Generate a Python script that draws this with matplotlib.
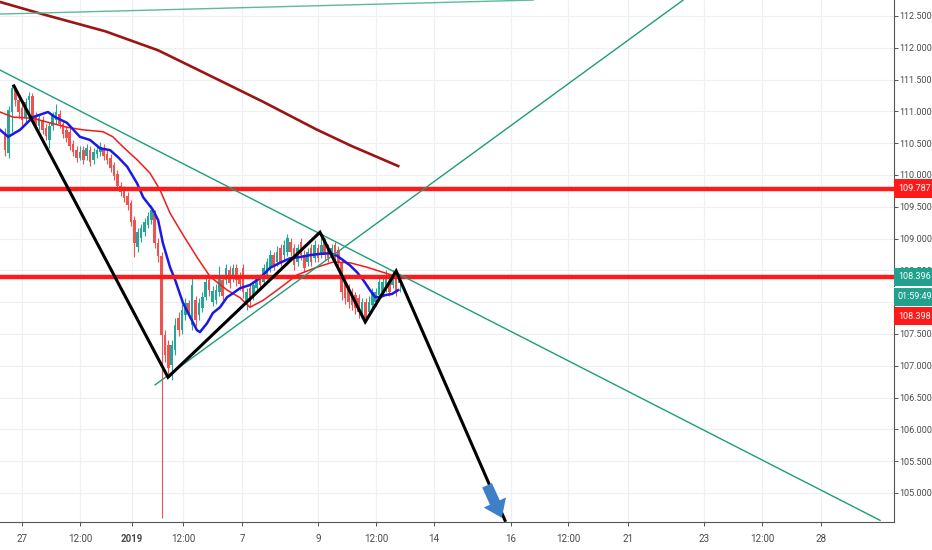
import matplotlib
matplotlib.use("Agg")
import matplotlib.pyplot as plt
import matplotlib.transforms as mtransforms
from matplotlib.patches import Rectangle, FancyArrowPatch
import numpy as np

plt.rcParams['font.family'] = ['Roboto', 'DejaVu Sans']

# candles (one per bar)
opens = [110.63, 110.35, 110.99, 111.37, 111.18, 111.05, 110.90, 111.18, 111.24, 110.93,
         110.77, 110.86, 110.74, 110.55, 110.77, 110.86, 110.96, 110.80, 110.71, 110.68,
         110.49, 110.39, 110.27, 110.39, 110.30, 110.39, 110.23, 110.33, 110.36, 110.42,
         110.33, 110.27, 110.16, 110.01, 109.82, 109.76, 109.67, 109.56, 109.29, 108.87,
         109.01, 109.10, 109.21, 109.29, 109.39, 108.93, 108.73, 107.48, 107.33, 107.01,
         107.25, 107.75, 107.56, 107.80, 107.99, 107.64, 108.03, 107.80, 107.91, 108.08,
         108.35, 108.00, 108.03, 108.16, 108.35, 108.35, 108.51, 108.38, 108.54, 108.40,
         108.54, 107.96, 108.22, 108.10, 108.22, 108.38, 108.32, 108.43, 108.54, 108.74,
         108.63, 108.85, 108.74, 108.79, 108.95, 108.85, 108.63, 108.95, 108.74, 108.63,
         108.85, 108.69, 108.85, 108.74, 108.95, 108.85, 108.74, 108.90, 108.82, 108.63,
         108.32, 108.22, 108.16, 108.11, 108.06, 107.80, 108.00, 107.85, 107.96, 108.00,
         108.11, 108.16, 108.22, 108.32, 108.27, 108.38, 108.30]
closes = [110.39, 111.02, 111.37, 111.18, 110.99, 110.86, 111.15, 111.24, 110.90, 110.80,
          110.90, 110.71, 110.61, 110.77, 110.93, 110.99, 110.80, 110.64, 110.58, 110.46,
          110.36, 110.27, 110.36, 110.23, 110.42, 110.20, 110.36, 110.39, 110.44, 110.30,
          110.23, 110.11, 109.98, 109.82, 109.73, 109.64, 109.53, 109.26, 108.93, 109.10,
          109.17, 109.26, 109.35, 109.45, 108.93, 108.73, 107.48, 107.17, 106.96, 107.33,
          107.64, 107.56, 107.88, 107.99, 107.85, 108.27, 107.72, 107.99, 108.08, 108.32,
          108.19, 108.17, 108.19, 108.40, 108.10, 108.54, 108.30, 108.54, 108.35, 108.28,
          108.16, 108.16, 108.00, 108.27, 108.38, 108.27, 108.54, 108.63, 108.74, 108.58,
          108.79, 108.63, 108.90, 109.01, 108.79, 108.58, 108.85, 108.74, 108.54, 108.79,
          108.63, 108.90, 108.69, 108.90, 108.74, 108.69, 108.85, 108.69, 108.63, 108.16,
          108.07, 108.00, 107.96, 107.91, 107.85, 108.00, 107.75, 108.00, 108.16, 108.16,
          108.32, 108.32, 108.43, 108.16, 108.43, 108.16, 108.40]
highs = [110.74, 111.08, 111.41, 111.40, 111.26, 111.11, 111.21, 111.30, 111.29, 110.99,
         110.96, 110.93, 110.80, 110.83, 110.99, 111.11, 111.02, 110.86, 110.77, 110.74,
         110.55, 110.46, 110.46, 110.46, 110.49, 110.46, 110.42, 110.49, 110.52, 110.49,
         110.39, 110.33, 110.20, 110.08, 109.89, 109.82, 109.73, 109.61, 109.35, 109.17,
         109.23, 109.32, 109.42, 109.53, 109.45, 109.01, 108.79, 107.56, 107.41, 107.41,
         107.75, 107.85, 107.97, 108.07, 108.03, 108.38, 108.10, 108.07, 108.16, 108.41,
         108.41, 108.25, 108.28, 108.57, 108.41, 108.60, 108.57, 108.60, 108.60, 108.48,
         108.60, 108.22, 108.28, 108.33, 108.44, 108.44, 108.60, 108.69, 108.82, 108.79,
         108.88, 108.91, 108.98, 109.07, 109.01, 108.91, 108.91, 109.01, 108.82, 108.85,
         108.91, 108.98, 108.91, 109.04, 109.01, 108.91, 108.91, 108.95, 108.88, 108.69,
         108.38, 108.28, 108.22, 108.16, 108.13, 108.06, 108.06, 108.10, 108.22, 108.22,
         108.38, 108.41, 108.51, 108.38, 108.51, 108.47, 108.44]
lows = [110.30, 110.27, 110.68, 111.08, 110.90, 110.77, 110.83, 110.90, 110.83, 110.71,
        110.71, 110.64, 110.55, 110.42, 110.71, 110.80, 110.74, 110.58, 110.52, 110.39,
        110.30, 110.20, 110.23, 110.17, 110.23, 110.14, 110.17, 110.27, 110.30, 110.23,
        110.17, 110.05, 109.92, 109.76, 109.67, 109.57, 109.45, 109.20, 108.71, 108.79,
        108.95, 109.04, 109.17, 109.23, 108.85, 108.63, 104.60, 107.06, 106.81, 106.78,
        107.17, 107.47, 107.50, 107.72, 107.75, 107.56, 107.63, 107.72, 107.85, 108.03,
        108.10, 107.94, 107.97, 108.10, 108.03, 108.28, 108.22, 108.32, 108.25, 108.19,
        108.07, 107.88, 107.94, 108.03, 108.16, 108.19, 108.25, 108.36, 108.47, 108.51,
        108.57, 108.57, 108.66, 108.73, 108.73, 108.51, 108.57, 108.66, 108.47, 108.57,
        108.57, 108.63, 108.63, 108.69, 108.66, 108.63, 108.66, 108.63, 108.54, 108.03,
        107.97, 107.91, 107.88, 107.82, 107.75, 107.75, 107.69, 107.78, 107.91, 107.94,
        108.06, 108.10, 108.16, 108.10, 108.22, 108.10, 108.16]

# moving averages: (bar, price)
ma_fast_x = [-1.5, 0.9, 4.4, 8.2, 12.6, 14.7, 18.2, 22.0, 25.0, 27.9, 30.9, 33.2, 35.9, 38.8,
             40.6, 43.5, 45.0, 46.4, 48.5, 50.0, 52.3, 54.4, 56.4, 57.3, 59.4, 61.1, 63.2,
             65.3, 67.0, 69.1, 72.0, 75.0, 77.9, 80.9, 83.8, 86.7, 89.7, 92.6, 95.6, 97.6,
             99.4, 101.4, 103.5, 105.3, 107.3, 108.8, 110.3, 111.7, 113.8, 115.6]
ma_fast_y = [110.71, 110.60, 110.71, 110.91, 110.99, 110.91, 110.82, 110.60, 110.55, 110.42,
             110.39, 110.28, 110.13, 109.87, 109.65, 109.45, 109.29, 108.93, 108.55, 108.35,
             107.99, 107.77, 107.56, 107.53, 107.67, 107.83, 107.92, 108.08, 108.14, 108.22,
             108.27, 108.38, 108.54, 108.62, 108.69, 108.71, 108.74, 108.76, 108.77, 108.73,
             108.66, 108.58, 108.47, 108.35, 108.19, 108.08, 108.08, 108.11, 108.13, 108.19]
ma_mid_x = [-1.5, 2.3, 8.2, 13.2, 18.2, 22.9, 28.8, 31.7, 34.7, 38.8, 42.6, 45.6, 48.5, 52.3,
            56.4, 60.3, 65.3, 69.1, 72.0, 75.9, 80.0, 85.9, 91.7, 96.4, 101.4, 106.4, 111.1,
            115.3]
ma_mid_y = [110.99, 110.91, 110.89, 110.82, 110.75, 110.71, 110.68, 110.60, 110.44, 110.24,
            110.03, 109.76, 109.40, 109.06, 108.71, 108.40, 108.19, 108.07, 107.92, 108.03,
            108.19, 108.43, 108.55, 108.63, 108.62, 108.55, 108.47, 108.40]
ma_slow_x = [-1.5, 10.9, 29.4, 45.0, 60.3, 75.9, 91.4, 101.7, 115.6]
ma_slow_y = [112.72, 112.53, 112.26, 111.96, 111.56, 111.15, 110.72, 110.46, 110.14]

# drawings
trend_top = ([-1.5, 155.3], [112.53, 112.75])
trend_down = ([-1.5, 257.3], [111.65, 104.57])
trend_up = ([44.1, 199.4], [106.70, 112.75])
zigzag_x = [2.6, 47.9, 92.6, 105.9, 115.0, 147.0]
zigzag_y = [111.40, 106.82, 109.10, 107.69, 108.49, 104.57]
arrow_from = (141.4, 105.16)
arrow_to = (146.4, 104.57)
levels = [109.787, 108.396]

yticks = np.arange(105.0, 112.51, 0.5)
xtick_pos = [5.0, 22.0, 37.3, 52.3, 69.7, 92.0, 109.1, 126.1, 148.8, 165.6, 183.2, 205.6, 222.6, 240.0]
xtick_lab = ['27', '12:00', '2019', '12:00', '7', '9', '12:00', '14', '16', '12:00', '21', '23', '12:00', '28']

GREEN = '#26a69a'
RED = '#ef5350'

fig = plt.figure(figsize=(9.32, 5.5), dpi=100)
ax = fig.add_axes([0, 28 / 550, 894 / 932, 522 / 550])
ax.set_xlim(-1.5, 261.4)
ax.set_ylim(104.544, 112.751)

# grid
for p in xtick_pos:
    ax.axvline(p, color='#eef0f5', lw=0.9, zorder=0)
for t in yticks:
    ax.axhline(t, color='#eef0f5', lw=0.9, zorder=0)

# candles
n = len(closes)
xs = np.arange(n)
cols = [GREEN if c >= o else RED for o, c in zip(opens, closes)]
ax.vlines(xs, lows, highs, colors=cols, lw=0.8, zorder=2)
bottoms = np.minimum(opens, closes)
heights = np.maximum(np.abs(np.array(closes) - np.array(opens)), 0.01)
ax.bar(xs, heights, bottom=bottoms, width=0.75, color=cols, zorder=2, linewidth=0)

# moving averages
ax.plot(ma_slow_x, ma_slow_y, color='#9c1414', lw=1.9, zorder=3)
ax.plot(ma_mid_x, ma_mid_y, color='#f01c1c', lw=1.1, zorder=3)
ax.plot(ma_fast_x, ma_fast_y, color='#1a1ae6', lw=1.8, zorder=3)

# horizontal levels
for lv in levels:
    ax.axhline(lv, color='#ff1a1a', lw=3.2, zorder=4)

# trend lines
ax.plot(*trend_top, color='#5cb89e', lw=1.0, zorder=4)
ax.plot(*trend_down, color='#1f9c7a', lw=1.0, zorder=4)
ax.plot(*trend_up, color='#1f9c7a', lw=1.0, zorder=4)
ax.plot(zigzag_x, zigzag_y, color='black', lw=2.2, zorder=5, solid_joinstyle='miter')

arr = FancyArrowPatch(arrow_from, arrow_to,
                      arrowstyle='simple,head_width=1.6,head_length=1.1,tail_width=0.7',
                      mutation_scale=11, color='#3d80c8', lw=0, zorder=6)
ax.add_patch(arr)

# axes styling
for s in ['top', 'left']:
    ax.spines[s].set_visible(False)
ax.spines['right'].set_color('#555555')
ax.spines['bottom'].set_color('#555555')
ax.yaxis.tick_right()
ax.set_yticks(yticks)
ax.set_yticklabels(['%.3f' % t for t in yticks])
ax.set_xticks(xtick_pos)
ax.set_xticklabels(xtick_lab)
for lab in ax.get_xticklabels():
    if lab.get_text() == '2019':
        lab.set_fontweight('bold')
        lab.set_color('#222222')
ax.tick_params(axis='both', length=3, width=0.7, color='#555555', labelsize=6.5,
               labelcolor='#4a4a4a', pad=1)
ax.tick_params(axis='x', pad=6, labelsize=7)

# price labels on the right scale
trans = mtransforms.blended_transform_factory(ax.transAxes, ax.transData)
boxw = 38 / 894
price_tags = [(109.787, '109.787', '#ff1a1a'),
              (108.396, '108.396', '#22a08e'),
              (108.09, '01:59:49', '#22a08e'),
              (107.78, '108.398', '#ff1a1a')]
for yv, txt, fc in price_tags:
    ax.add_patch(Rectangle((1.0, yv - 0.145), boxw, 0.29, transform=trans, facecolor=fc,
                           edgecolor='none', clip_on=False, zorder=10))
    ax.text(1.0 + boxw / 2 + 0.002, yv, txt, transform=trans, ha='center', va='center',
            color='white', fontsize=6.5, clip_on=False, zorder=11)
ax.plot([1.0, 1.0 + boxw], [108.245, 108.245], transform=trans, color='white',
        lw=0.8, clip_on=False, zorder=12)

fig.savefig('out.png', dpi=100)
